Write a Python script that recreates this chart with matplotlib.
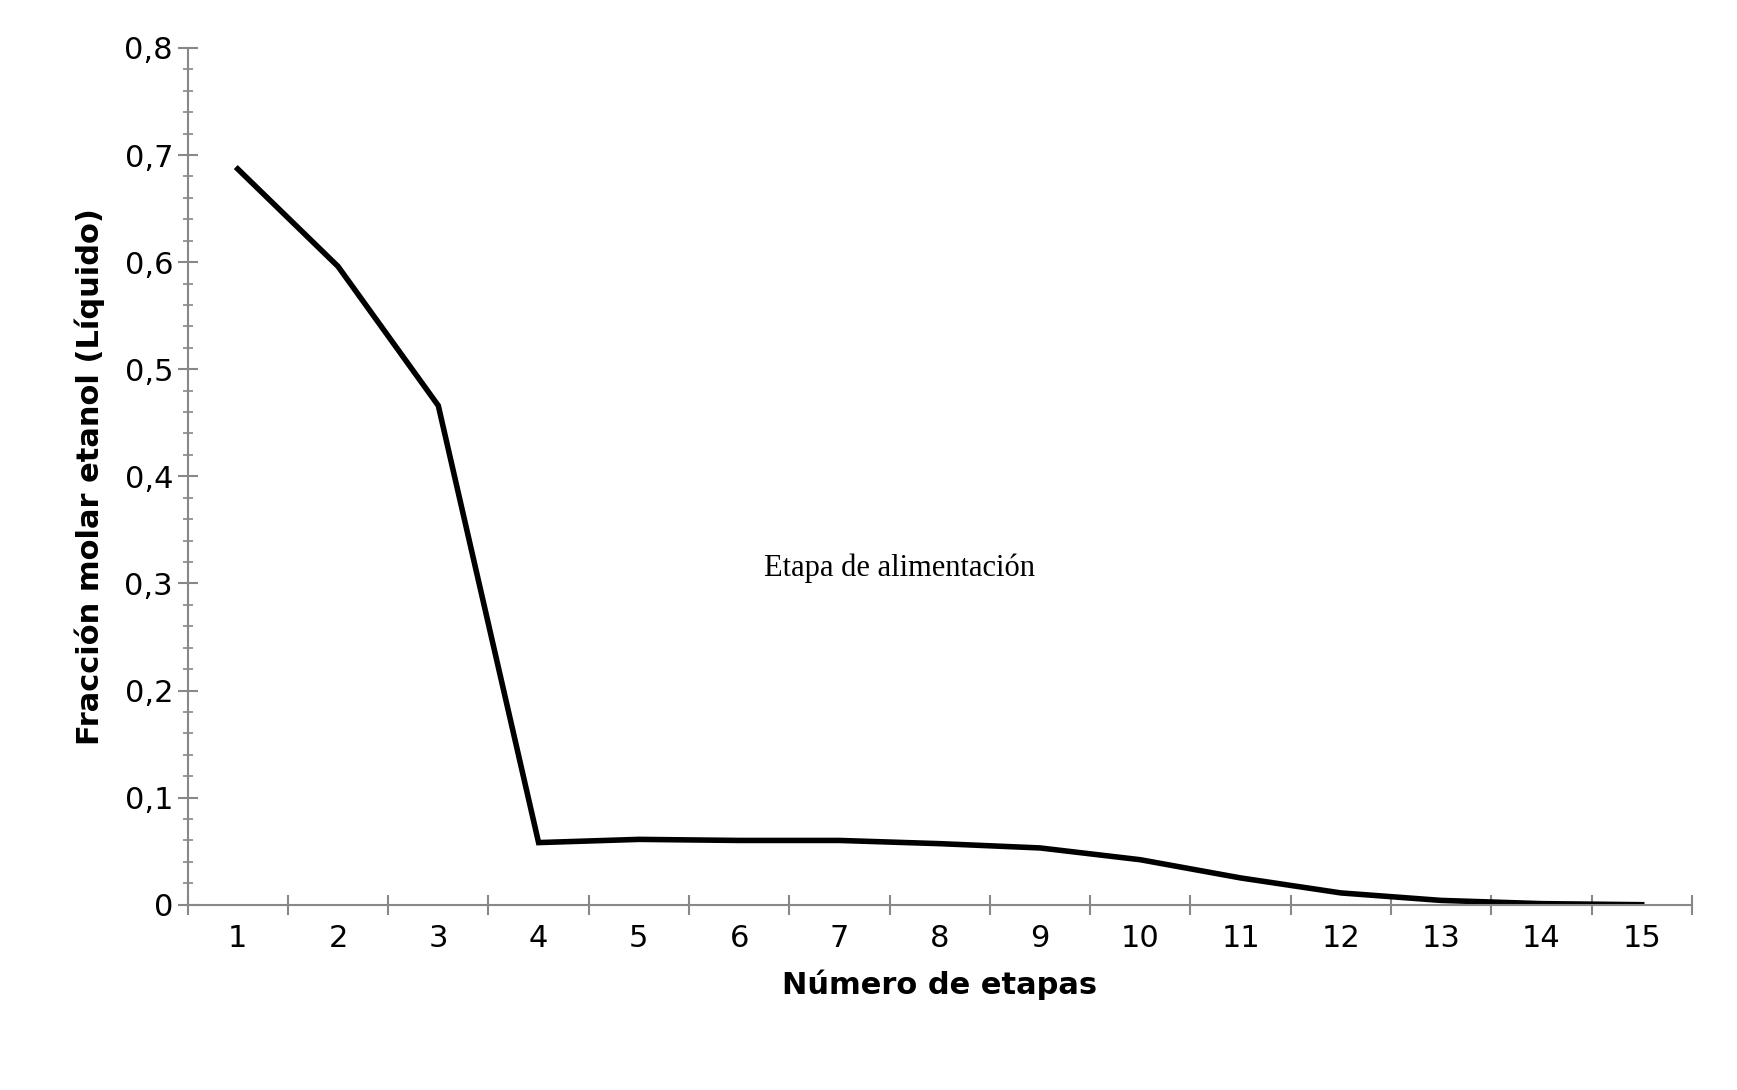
import matplotlib
matplotlib.use("Agg")
import matplotlib.pyplot as plt
from matplotlib.ticker import MultipleLocator, FixedLocator

stages = list(range(1, 16))
x_ethanol = [0.687, 0.596, 0.466, 0.058, 0.061, 0.060, 0.060, 0.057, 0.053, 0.042, 0.025, 0.011, 0.004, 0.001, 0.0]
ytick_labels = ["0", "0,1", "0,2", "0,3", "0,4", "0,5", "0,6", "0,7", "0,8"]

fig = plt.figure(figsize=(17.37, 10.90), dpi=100)
ax = fig.add_axes([0.108, 0.170, 0.866, 0.786])
ax.plot(stages, x_ethanol, color="black", lw=4, solid_joinstyle="miter")
ax.set_xlim(0.5, 15.5)
ax.set_ylim(0, 0.8)
for s in ["top", "right"]:
    ax.spines[s].set_visible(False)
for s in ["left", "bottom"]:
    ax.spines[s].set_color("#888888")
    ax.spines[s].set_linewidth(1.5)
ax.set_yticks([i / 10 for i in range(9)])
ax.set_yticklabels(ytick_labels)
ax.yaxis.set_minor_locator(MultipleLocator(0.02))
ax.set_xticks(stages)
ax.set_xticklabels([str(s) for s in stages])
ax.xaxis.set_minor_locator(FixedLocator([s + 0.5 for s in range(0, 16)]))
ax.tick_params(axis="x", which="major", length=0, labelsize=22, pad=14, colors="black")
ax.tick_params(axis="x", which="minor", length=14, direction="inout", color="#888888", width=1.5)
ax.tick_params(axis="y", which="major", length=14, direction="inout", color="#888888", width=1.5, labelsize=22, labelcolor="black")
ax.tick_params(axis="y", which="minor", length=7, direction="inout", color="#888888", width=1.2)
ax.set_xlabel("Número de etapas", fontsize=22, fontweight="bold", labelpad=12)
ax.set_ylabel("Fracción molar etanol (Líquido)", fontsize=22, fontweight="bold", labelpad=14)
ax.text(7.6, 0.30, "Etapa de alimentación", fontsize=22, family="Liberation Serif", ha="center", va="bottom")
fig.savefig("out.png", dpi=100)
